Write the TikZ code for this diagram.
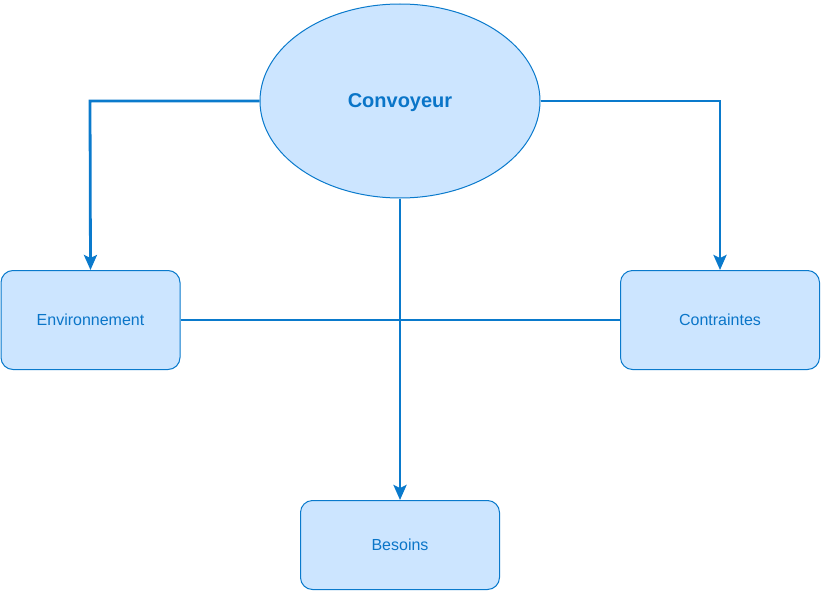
\documentclass[tikz,border=0pt]{standalone}
\usepackage{fontspec}
\setmainfont{Liberation Sans}
\usetikzlibrary{shapes.geometric,arrows.meta}
\definecolor{boxfill}{HTML}{CCE5FF}
\definecolor{boxline}{HTML}{0A7ACC}
\definecolor{txt}{HTML}{0A75C8}
\tikzset{
  x=1pt,y=-1pt,
  box/.style={draw=boxline,fill=boxfill,rounded corners=12pt,line width=1pt,
    minimum width=179pt,minimum height=99pt,inner sep=0pt,text=txt,
    font=\fontsize{16}{19}\selectfont},
  oval/.style={ellipse,draw=boxline,fill=boxfill,line width=1pt,
    minimum width=280pt,minimum height=194pt,inner sep=0pt,
    font=\fontsize{20}{24}\selectfont\bfseries},
  thin/.style={draw=boxline,line width=1.5pt},
  arr/.style={draw=boxline,line width=2.8pt,-{Stealth[length=15pt,width=13pt,inset=3pt]}},
}
\begin{document}
\begin{tikzpicture}
\useasboundingbox (0,0) rectangle (821,591);
\node[oval] (conv) at (400,101) {};
\node[text=txt,font=\fontsize{20}{24}\selectfont\bfseries] (convt) at (400,103) {Convoyeur};
\node[box] (env) at (90.5,320) {Environnement};
\node[box,minimum width=199pt] (con) at (720,320) {Contraintes};
\node[box,minimum width=199pt,minimum height=89pt] (bes) at (400,545) {Besoins};
\coordinate (c1) at (90,101);
\coordinate (c2) at (720,101);
\coordinate (mid) at (400,320);
\draw[arr] (conv.west) -- (c1) -- (env.north);
\draw[arr] (conv.east) -- (c2) -- (con.north);
\draw[thin] (env.east) -- (con.west);
\draw[thin] (conv.south) -- (mid);
\draw[arr] (mid) -- (bes.north);
\end{tikzpicture}
\end{document}
